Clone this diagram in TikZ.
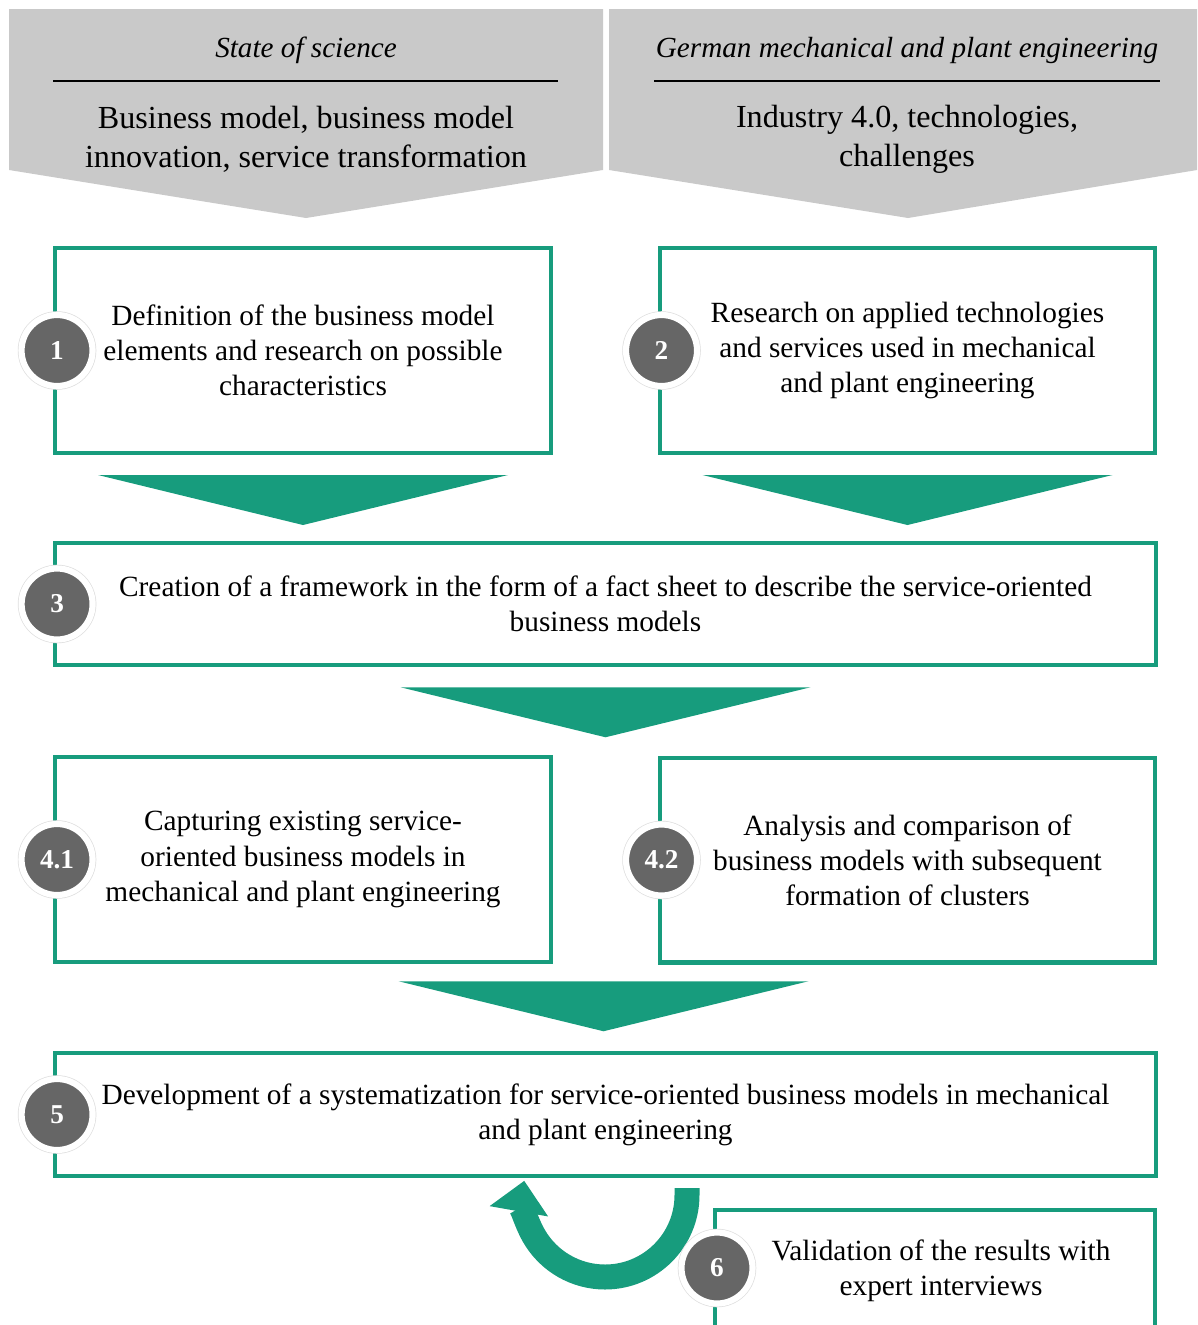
\documentclass[tikz,border=0pt]{standalone}
\usepackage{fontspec}
\setmainfont{Liberation Serif}
\usepackage{tikz}
\usetikzlibrary{arrows.meta, positioning, calc}
\definecolor{fhgreen}{HTML}{179C7D}
\definecolor{headgray}{HTML}{C9C9C9}
\definecolor{numgray}{HTML}{666666}

% green wedge below a box, #1 is its top centre
\newcommand{\chevron}[1]{\fill[chev] ($#1+(-205,0)$) -- ($#1+(205,0)$) -- ($#1+(0,50)$) -- cycle;}

\begin{document}
\begin{tikzpicture}[x=0.02cm, y=-0.02cm,
    stepbox/.style={draw=fhgreen, line width=2.3pt, fill=white, align=center, font=\fontsize{16.7}{20}\selectfont, inner sep=0pt},
    half/.style={stepbox, minimum width=9.92cm, minimum height=4.1cm},
    wide/.style={stepbox, minimum width=22.02cm, minimum height=2.45cm},
    num/.style={circle, fill=numgray, draw=white, line width=3.5pt, minimum size=1.42cm, inner sep=0pt, text=white, font=\fontsize{15.5}{15}\selectfont\bfseries, preaction={draw=black!13, line width=4.3pt}, xshift=0.08cm},
    topic/.style={font=\fontsize{16.6}{20}\selectfont\itshape},
    headtxt/.style={align=center, font=\fontsize{18.3}{22}\selectfont},
    chev/.style={fill=fhgreen}
]
\useasboundingbox (0,0) rectangle (1197,1325);

% header arrows
\fill[headgray] (9,9) -- (603,9) -- (603,170) -- (306,218) -- (9,170) -- cycle;
\fill[headgray] (609,9) -- (1197,9) -- (1197,170) -- (908,218) -- (609,170) -- cycle;
\node[topic] (sci) at (306,50) {State of science};
\node[topic] (ind) at (907,50) {German mechanical and plant engineering};
\draw[line width=1.1pt] (53,81) -- (558,81);
\draw[line width=1.1pt] (654,81) -- (1160,81);
\node[headtxt] (scitxt) at (306,139) {Business model, business model\\innovation, service transformation};
\node[headtxt] (indtxt) at (907,139) {Industry 4.0, technologies,\\challenges};

% steps
\node[half] (b1) at (303,350.5) {Definition of the business model\\elements and research on possible\\characteristics};
\node[half] (b2) at (907.5,350.5) {Research on applied technologies\\and services used in mechanical\\and plant engineering};
\node[wide] (b3) at (605.5,604) {Creation of a framework in the form of a fact sheet to describe the service-oriented\\business models};
\node[half] (b41) at (303,859.5) {Capturing existing service-\\oriented business models in\\mechanical and plant engineering};
\node[half] (b42) at (907.5,860) {Analysis and comparison of\\business models with subsequent\\formation of clusters};
\node[wide] (b5) at (605.5,1114.5) {Development of a systematization for service-oriented business models in mechanical\\and plant engineering};
\draw[fhgreen, line width=2.3pt] (715,1340) -- (715,1210) -- (1155,1210) -- (1155,1340);
\node[align=center, font=\fontsize{16.7}{20}\selectfont] (b6) at (941,1271) {Validation of the results with\\expert interviews};

% wedges between the steps
\chevron{(b1.south)+(0,20)}
\chevron{(b2.south)+(0,20)}
\chevron{(b3.south)+(0,20)}
\chevron{(b5.north)+(-2,-70)}

% loop back from the validation
\draw[fhgreen, line width=0.5cm, -{Triangle[width=1.15cm, length=0.62cm]}]
    (687,1188) -- (687,1195) arc[start angle=0, end angle=190, radius=82];

% step numbers
\node[num] (n1) at (b1.west) {1};
\node[num] (n2) at (b2.west) {2};
\node[num] (n3) at (b3.west) {3};
\node[num] (n41) at (b41.west) {4.1};
\node[num] (n42) at (b42.west) {4.2};
\node[num] (n5) at (b5.west) {5};
\node[num] (n6) at (713,1268) {6};
\end{tikzpicture}
\end{document}
